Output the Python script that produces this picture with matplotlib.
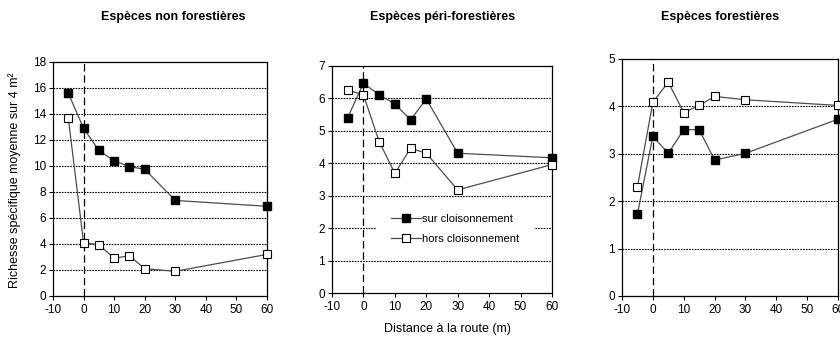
import matplotlib
matplotlib.use("Agg")
import matplotlib.pyplot as plt

plt.rcParams['font.family'] = ['Liberation Sans', 'DejaVu Sans']
plt.rcParams['axes.unicode_minus'] = False

distance = [-5, 0, 5, 10, 15, 20, 30, 60]
titles = ["Espèces non forestières", "Espèces péri-forestières", "Espèces forestières"]
sur_non = [15.6, 12.9, 11.2, 10.4, 9.95, 9.75, 7.35, 6.9]
hors_non = [13.7, 4.1, 3.95, 2.9, 3.1, 2.1, 1.9, 3.2]
sur_peri = [5.41, 6.47, 6.11, 5.83, 5.34, 5.98, 4.31, 4.17]
hors_peri = [6.26, 6.11, 4.67, 3.69, 4.46, 4.31, 3.18, 3.96]
sur_for = [1.73, 3.37, 3.01, 3.51, 3.51, 2.87, 3.01, 3.73]
hors_for = [2.30, 4.09, 4.51, 3.87, 4.02, 4.21, 4.14, 4.02]
xticks = [-10, 0, 10, 20, 30, 40, 50, 60]
ymaxes = [18, 7, 5]
ysteps = [2, 1, 1]
legend_labels = ["sur cloisonnement", "hors cloisonnement"]
ylabel = "Richesse spécifique moyenne sur 4 m²"
xlabel = "Distance à la route (m)"

W, H = 840, 339
fig = plt.figure(figsize=(W / 100, H / 100), dpi=100)

# axes boxes in pixels: left, right, top, bottom
boxes = [(53, 267, 62, 296), (332, 552, 66, 293), (622, 838, 59, 296)]
series = [(sur_non, hors_non), (sur_peri, hors_peri), (sur_for, hors_for)]
title_x = [173, 443, 720]

line_col = '#4d4d4d'
for i, (box, (s, h)) in enumerate(zip(boxes, series)):
    l, r, t, b = box
    ax = fig.add_axes([l / W, 1 - b / H, (r - l) / W, (b - t) / H])
    ax.set_xlim(-10, 60)
    ax.set_ylim(0, ymaxes[i])
    ax.set_xticks(xticks)
    yt = list(range(0, ymaxes[i] + 1, ysteps[i]))
    ax.set_yticks(yt)
    for y in yt[1:-1]:
        ax.axhline(y, color='black', lw=0.8, ls=(0, (1.5, 1)), zorder=1)
    ax.axvline(0, color='black', lw=0.9, ls=(0, (6, 3)), zorder=1)
    ax.plot(distance, s, color=line_col, lw=0.9, marker='s', ms=6,
            mfc='black', mec='black', zorder=3, clip_on=False,
            label=legend_labels[0])
    ax.plot(distance, h, color=line_col, lw=0.9, marker='s', ms=6,
            mfc='white', mec='black', mew=0.8, zorder=3, clip_on=False,
            label=legend_labels[1])
    ax.tick_params(direction='out', length=3, width=0.8, labelsize=8.5,
                   pad=2, colors='black')
    ax.tick_params(axis='x', pad=3)
    for sp in ax.spines.values():
        sp.set_linewidth(0.9)
    fig.text(title_x[i] / W, 1 - 17 / H, titles[i], ha='center', va='center',
             fontsize=9, fontweight='bold')
    if i == 1:
        leg = ax.legend(loc='center', bbox_to_anchor=((455 - l) / (r - l), (b - 229) / (b - t)),
                        frameon=True, fontsize=8, handlelength=2.7,
                        borderpad=1.3, labelspacing=0.95, handletextpad=0.1,
                        borderaxespad=0)
        leg.get_frame().set_edgecolor('white')
        leg.get_frame().set_facecolor('white')
        leg.get_frame().set_alpha(1)
        leg.get_frame().set_boxstyle('square', pad=0)
        leg.set_zorder(2)

fig.text(15 / W, 1 - 180 / H, ylabel, rotation=90, ha='center', va='center',
         fontsize=9)
fig.text(447 / W, 1 - 329 / H, xlabel, ha='center', va='center', fontsize=9)

fig.savefig("out.png", dpi=100)
